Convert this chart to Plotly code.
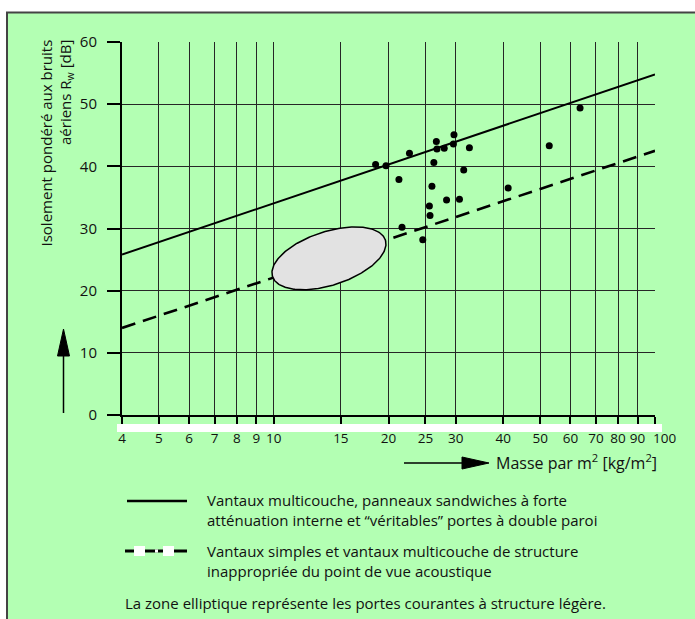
import numpy as np
import plotly.graph_objects as go

# ---------------- data ----------------
masse = [18.5, 19.7, 22.7, 26.7, 26.8, 28.0, 29.7, 29.6, 32.6, 26.3, 31.5,
         21.3, 26.0, 28.4, 30.7, 25.6, 25.7, 21.7, 24.6, 52.8, 41.2, 63.6]
isolement = [40.3, 40.1, 42.1, 44.0, 42.8, 42.9, 45.1, 43.6, 43.0, 40.6, 39.4,
             37.9, 36.8, 34.6, 34.7, 33.6, 32.1, 30.2, 28.2, 43.3, 36.5, 49.4]

line_x = [4, 100]
solid_y = [25.8, 54.8]     # multicouche / sandwich / double paroi
dashed_y = [14.0, 42.5]    # vantaux simples

ellipse_center = (13.96, 25.2)   # (kg/m2, dB)

x_tickvals = [4, 5, 6, 7, 8, 9, 10, 15, 20, 25, 30, 40, 50, 60, 70, 80, 90, 100]
x_ticktext = ["4", "5", "6", "7", "8", "9", "10", "15", "20", "25", "30", "40",
              "50", "60", "70", "80", "90", "100"]
y_tickvals = [0, 10, 20, 30, 40, 50, 60]

legend_solid = "Vantaux multicouche, panneaux sandwiches à forte<br>atténuation interne et “véritables” portes à double paroi"
legend_dashed = "Vantaux simples et vantaux multicouche de structure<br>inappropriée du point de vue acoustique"
legend_note = "La zone elliptique représente les portes courantes à structure légère."
x_title = "Masse par m<sup>2</sup> [kg/m<sup>2</sup>]"
y_title = "Isolement pondéré aux bruits<br>aériens R<sub>w</sub> [dB]"

# ---------------- layout constants ----------------
W, H = 695, 619
L, R, T, B = 122, 40, 42, 204
PW, PH = W - L - R, H - T - B
GREEN = "rgb(179,255,179)"
FONT = "'Open Sans', Lato, sans-serif"
INK = "#111"


def fx(px):
    return (px - L) / PW


def fy(py):
    return (T + PH - py) / PH


# ellipse (geometry in screen pixels, mapped through the axes)
px_dec = PW / np.log10(100 / 4)
px_db = PH / 60
t = np.linspace(0, 2 * np.pi, 241)
th = np.radians(18)
A_, B_ = 59.3, 26.8
dxp = A_ * np.cos(t) * np.cos(th) - B_ * np.sin(t) * np.sin(th)
dyp = A_ * np.cos(t) * np.sin(th) + B_ * np.sin(t) * np.cos(th)
ell_x = ellipse_center[0] * 10 ** (dxp / px_dec)
ell_y = ellipse_center[1] + dyp / px_db

fig = go.Figure()
fig.add_trace(go.Scatter(x=line_x, y=dashed_y, mode="lines",
                         line=dict(color="black", width=2.6, dash="14px,8px"),
                         hoverinfo="skip", showlegend=False))
fig.add_trace(go.Scatter(x=ell_x, y=ell_y, mode="lines", fill="toself",
                         fillcolor="rgb(226,226,226)",
                         line=dict(color="black", width=1.5),
                         hoverinfo="skip", showlegend=False))
fig.add_trace(go.Scatter(x=line_x, y=solid_y, mode="lines",
                         line=dict(color="black", width=2),
                         hoverinfo="skip", showlegend=False))
fig.add_trace(go.Scatter(x=masse, y=isolement, mode="markers",
                         marker=dict(color="black", size=7),
                         showlegend=False))

shapes = []
# green panel with border (top and left)
shapes.append(dict(type="rect", xref="paper", yref="paper",
                   x0=fx(7), x1=fx(705), y0=fy(630), y1=fy(12.5),
                   fillcolor=GREEN, line=dict(color="#444", width=2), layer="below"))
# white band under x axis
shapes.append(dict(type="rect", xref="paper", yref="paper",
                   x0=fx(117), x1=fx(662), y0=fy(432), y1=fy(424),
                   fillcolor="white", line=dict(width=0), layer="above"))
# y arrow
shapes.append(dict(type="line", xref="paper", yref="paper",
                   x0=fx(63.5), x1=fx(63.5), y0=fy(413), y1=fy(350),
                   line=dict(color="black", width=1.5)))
shapes.append(dict(type="path", xref="paper", yref="paper",
                   path=f"M {fx(57.5)},{fy(356)} L {fx(69.5)},{fy(356)} L {fx(63.5)},{fy(329)} Z",
                   fillcolor="black", line=dict(color="black", width=1)))
# x arrow
shapes.append(dict(type="line", xref="paper", yref="paper",
                   x0=fx(404), x1=fx(465), y0=fy(463), y1=fy(463),
                   line=dict(color="black", width=1.5)))
shapes.append(dict(type="path", xref="paper", yref="paper",
                   path=f"M {fx(462)},{fy(457)} L {fx(462)},{fy(469)} L {fx(489)},{fy(463)} Z",
                   fillcolor="black", line=dict(color="black", width=1)))
# legend samples
shapes.append(dict(type="line", xref="paper", yref="paper",
                   x0=fx(127), x1=fx(187), y0=fy(501), y1=fy(501),
                   line=dict(color="black", width=2.5)))
shapes.append(dict(type="line", xref="paper", yref="paper",
                   x0=fx(125), x1=fx(187), y0=fy(551), y1=fy(551),
                   line=dict(color="black", width=3)))
for a, b, h in [(134, 145, 5), (155, 158, 1.6), (163, 174, 5)]:
    shapes.append(dict(type="rect", xref="paper", yref="paper",
                       x0=fx(a), x1=fx(b), y0=fy(551 + h), y1=fy(551 - h),
                       fillcolor="white", line=dict(width=0)))

annotations = []
txt = dict(xref="paper", yref="paper", showarrow=False, xanchor="left",
           yanchor="middle", align="left",
           font=dict(family=FONT, size=15, color=INK))
annotations.append(dict(txt, x=fx(205), y=fy(510), text=legend_solid))
annotations.append(dict(txt, x=fx(205), y=fy(561), text=legend_dashed))
annotations.append(dict(txt, x=fx(123), y=fy(603), text=legend_note))
annotations.append(dict(txt, x=fx(494), y=fy(462), text=x_title,
                        font=dict(family=FONT, size=16, color=INK)))
annotations.append(dict(xref="paper", yref="paper", showarrow=False,
                        x=fx(56), y=fy(38), xanchor="center", yanchor="top",
                        textangle=-90, align="right", text=y_title,
                        font=dict(family=FONT, size=15, color=INK)))
# last x tick label, nudged right as in the original
annotations.append(dict(xref="x", yref="paper", showarrow=False,
                        x=np.log10(x_tickvals[-1]), y=fy(438), xshift=9,
                        xanchor="center", yanchor="middle",
                        text=x_ticktext[-1],
                        font=dict(family=FONT, size=13.5, color=INK)))

fig.update_layout(
    width=W, height=H,
    margin=dict(l=L, r=R, t=T, b=B, pad=0),
    paper_bgcolor="white",
    plot_bgcolor="rgba(0,0,0,0)",
    font=dict(family=FONT, size=15, color=INK),
    shapes=shapes,
    annotations=annotations,
    showlegend=False,
)
fig.update_xaxes(type="log", range=[np.log10(4), 2],
                 tickvals=x_tickvals, ticktext=x_ticktext[:-1] + [""], tickangle=0,
                 showgrid=True, gridcolor="#262626", gridwidth=1,
                 showline=True, linecolor="black", linewidth=2,
                 ticks="outside", ticklen=9, tickwidth=2, tickcolor="black",
                 ticklabelstandoff=1,
                 tickfont=dict(family=FONT, size=13.5, color=INK),
                 zeroline=False)
fig.update_yaxes(range=[0, 60], tickvals=y_tickvals,
                 showgrid=True, gridcolor="#262626", gridwidth=1,
                 showline=True, linecolor="black", linewidth=2,
                 ticks="outside", ticklen=13, tickwidth=2, tickcolor="black",
                 ticklabelstandoff=7,
                 tickfont=dict(family=FONT, size=15, color=INK),
                 zeroline=False)

fig.write_html("out.html",
               config={"displayModeBar": False},
               post_script="document.body.style.margin='0';document.body.style.padding='0';")
